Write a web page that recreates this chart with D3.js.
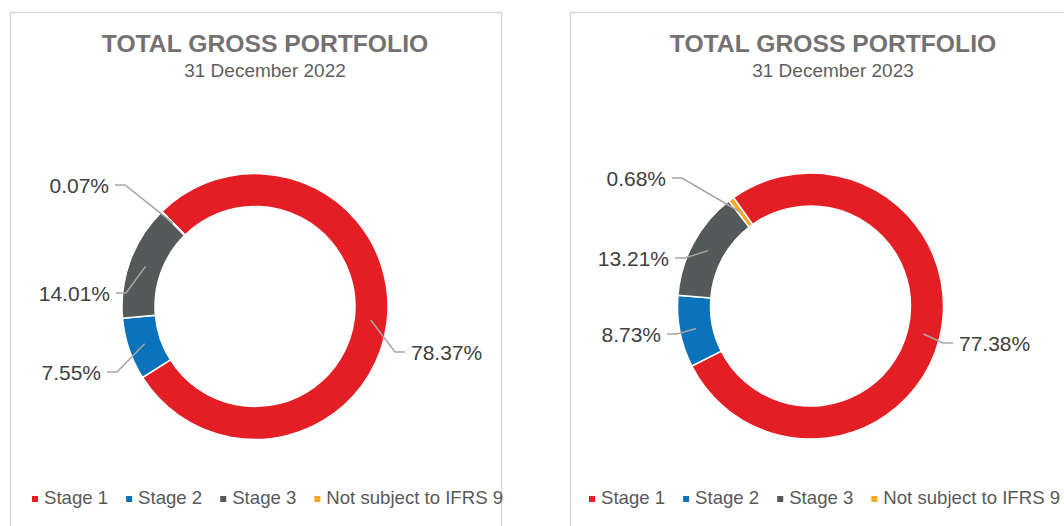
<!DOCTYPE html>
<html>
<head>
<meta charset="utf-8">
<script src="https://cdn.jsdelivr.net/npm/d3@7"></script>
<style>
  body { margin: 0; background: #fff; }
  svg { display: block; font-family: "Liberation Sans", Arial, sans-serif; }
</style>
</head>
<body>
<div id="chart"></div>
<script>
var categories = ["Stage 1", "Stage 2", "Stage 3", "Not subject to IFRS 9"];
var share2022 = [78.37, 7.55, 14.01, 0.07];
var share2023 = [77.38, 8.73, 13.21, 0.68];
var chartTitle = "TOTAL GROSS PORTFOLIO";
var subtitles = ["31 December 2022", "31 December 2023"];

var colours = ["#e31e24", "#0b73bb", "#545a59", "#f7a823"];

// layout of the two panels (positions only, no data)
var panels = [
  { values: share2022, sub: subtitles[0], x0: 10, w: 491, cx: 255, cy: 306.5,
    titleX: 265, legendX: 32, start: -44.4,
    elbows: [[140, 45.5], [-138, 65.5], [-129, -13.5], [-130, -121.5]] },
  { values: share2023, sub: subtitles[1], x0: 570, w: 520, cx: 810.5, cy: 306,
    titleX: 833, legendX: 589, start: -35.4,
    elbows: [[132.5, 37], [-133.5, 28], [-125.5, -48], [-128.5, -128]] }
];

var width = 1064, height = 526,
    outerR = 133, innerR = 100, midR = 116.5;

var svg = d3.select("#chart")
            .append("svg")
            .attr("width", width)
            .attr("height", height);

var colour = d3.scaleOrdinal().domain(categories).range(colours);
var fmt = d3.format(".2f");

panels.forEach(function(p) {

  var g = svg.append("g");

  // panel frame
  g.append("rect")
   .attr("x", p.x0 + 0.5)
   .attr("y", 12.5)
   .attr("width", p.w)
   .attr("height", 560)
   .attr("fill", "none")
   .attr("stroke", "#d9d9d9")
   .attr("stroke-width", 1.5);

  // titles
  g.append("text")
   .attr("x", p.titleX)
   .attr("y", 52)
   .attr("text-anchor", "middle")
   .attr("font-size", 24.7)
   .attr("font-weight", "bold")
   .attr("fill", "#767171")
   .text(chartTitle);

  g.append("text")
   .attr("x", p.titleX)
   .attr("y", 77)
   .attr("text-anchor", "middle")
   .attr("font-size", 19)
   .attr("fill", "#5f5f5f")
   .text(p.sub);

  // donut
  var rows = categories.map(function(c, i) { return { name: c, value: p.values[i] }; });
  var a0 = p.start * Math.PI / 180;
  var pie = d3.pie()
              .sort(null)
              .value(function(d) { return d.value; })
              .startAngle(a0)
              .endAngle(a0 + 2 * Math.PI);
  var arcs = pie(rows);

  var arc = d3.arc().innerRadius(innerR).outerRadius(outerR);

  var donut = g.append("g")
               .attr("transform", "translate(" + p.cx + "," + p.cy + ")");

  donut.selectAll(".slice")
       .data(arcs)
       .enter()
       .append("path")
       .attr("class", "slice")
       .attr("d", arc)
       .attr("fill", function(d) { return colour(d.data.name); })
       .attr("stroke", "#fff")
       .attr("stroke-width", 1.5);

  // leader lines and percentage labels
  arcs.forEach(function(d, i) {
    var mid = (d.startAngle + d.endAngle) / 2,
        sx = midR * Math.sin(mid),
        sy = -midR * Math.cos(mid),
        ex = p.elbows[i][0],
        ey = p.elbows[i][1],
        side = ex > 0 ? 1 : -1,
        hx = ex + side * 10;

    donut.append("polyline")
         .attr("points", [[sx, sy], [ex, ey], [hx, ey]].join(" "))
         .attr("fill", "none")
         .attr("stroke", "#a6a6a6")
         .attr("stroke-width", 1.5);

    donut.append("text")
         .attr("x", hx + side * 6)
         .attr("y", ey)
         .attr("dy", "0.36em")
         .attr("text-anchor", side > 0 ? "start" : "end")
         .attr("font-size", 21)
         .attr("fill", "#404040")
         .text(fmt(d.data.value) + "%");
  });

  // legend, laid out from the text widths
  var legend = g.append("g")
                .attr("transform", "translate(" + p.legendX + ",504)");
  var cursor = 0;
  categories.forEach(function(c) {
    var item = legend.append("g").attr("transform", "translate(" + cursor + ",0)");
    item.append("rect")
        .attr("x", 0)
        .attr("y", -8)
        .attr("width", 6)
        .attr("height", 6)
        .attr("fill", colour(c));
    var t = item.append("text")
                .attr("x", 12)
                .attr("y", 0)
                .attr("font-size", 18.6)
                .attr("fill", "#595959")
                .text(c);
    cursor += 12 + t.node().getComputedTextLength() + 18;
  });
});
</script>
</body>
</html>
